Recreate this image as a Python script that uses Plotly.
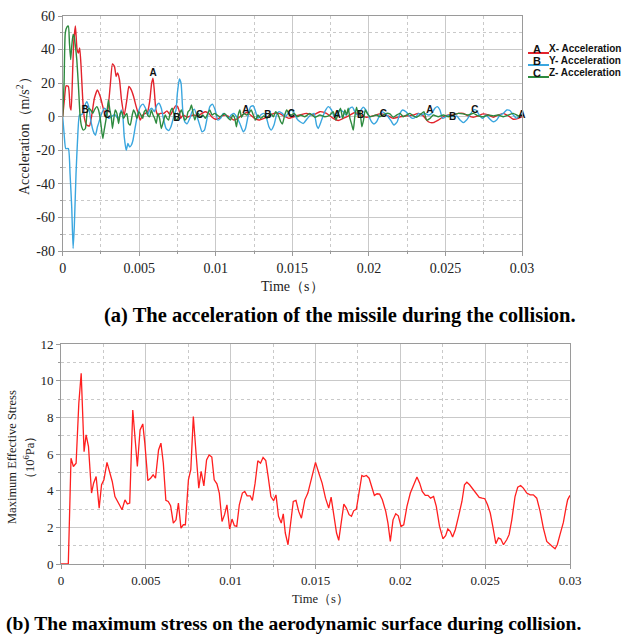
import plotly.graph_objects as go

W, H = 625, 637

# ---------------- (a) acceleration of the missile ----------------
ax_t = [0, 0.00011, 0.00022, 0.00037, 0.00048, 0.00055, 0.00066, 0.00072, 0.00083, 0.00094,
        0.00103, 0.00111, 0.0012, 0.00131, 0.00142, 0.00157, 0.00175, 0.0019, 0.00207, 0.00227,
        0.00245, 0.00262, 0.00277, 0.00288, 0.0031, 0.00325, 0.00338, 0.00349, 0.00358, 0.00371,
        0.00384, 0.00402, 0.00419, 0.00432, 0.00448, 0.00463, 0.0048, 0.00493, 0.00507, 0.00522,
        0.00539, 0.00555, 0.00568, 0.00581, 0.0059, 0.00598, 0.00609, 0.00622, 0.00638, 0.0066,
        0.00681, 0.00703, 0.00721, 0.00738, 0.00751, 0.00762, 0.00771, 0.00786, 0.00812, 0.00834,
        0.00856, 0.00882, 0.0091, 0.00932, 0.00954, 0.00976, 0.00998, 0.0102, 0.01041, 0.01063,
        0.01092, 0.01118, 0.01144, 0.01172, 0.01201, 0.01227, 0.01253, 0.01282, 0.01314, 0.01347,
        0.0138, 0.01413, 0.01445, 0.01478, 0.01511, 0.01549, 0.01593, 0.01636, 0.0168, 0.01723,
        0.01767, 0.018, 0.01832, 0.01876, 0.01908, 0.01941, 0.01985, 0.02028, 0.02072, 0.02115,
        0.02159, 0.02203, 0.02246, 0.0229, 0.02322, 0.02355, 0.02388, 0.0242, 0.02453, 0.02486,
        0.02519, 0.02551, 0.02584, 0.02617, 0.02649, 0.02682, 0.02714, 0.02747, 0.0278, 0.02813,
        0.02845, 0.02878, 0.02911, 0.02943, 0.02976, 0.03]
ax_v = [0, 10, 18.4, 18, 6, 4, 30, 44, 54, 40,
        38, 41, 30, 10, -1, -5, -5.5, 1, 11, 16,
        12, 6, 1, 0, 18, 31.5, 30, 24, 26, 22,
        10, 1, 10, 18, 16, 12, 6, 2, -2, 1,
        2, 3, 9, 20, 23, 16, 4, 1, 2, 2,
        3.5, 1, 4, 6.5, 6, 3, -1, 1, -0.3, 0.5,
        1, 0.5, 2, 3, 2, -0.3, -1.5, -1, 0.5, 1,
        -0.3, -2, -1, 1, 2.5, 1, -1, -2, -1, 0.5,
        2, 2, 0.5, -1, 0, 1, 2, 1, 3, 2,
        -1, -2.3, -1, 1, 2.5, 1, -0.3, 0.5, 1.7, 1,
        -1, 0, 0.5, 1, 2, 0.5, -3, -3.5, -2, 0,
        1, 1, 2, 2, 0.5, -0.3, 0.5, 1.7, 1, -0.3,
        1, 2, 0.5, -1.5, -1, 0]

ay_t = [0, 0.00009, 0.0002, 0.00037, 0.00048, 0.00059, 0.00068, 0.00076, 0.00087, 0.00098,
        0.00109, 0.00118, 0.00131, 0.00146, 0.00157, 0.0017, 0.00183, 0.00201, 0.00214, 0.00227,
        0.0024, 0.00255, 0.00271, 0.00284, 0.00299, 0.00314, 0.00332, 0.00345, 0.00358, 0.00371,
        0.00382, 0.00393, 0.00402, 0.00415, 0.00426, 0.00437, 0.00448, 0.00459, 0.00474, 0.00489,
        0.00507, 0.00524, 0.00541, 0.00555, 0.00568, 0.00583, 0.00598, 0.00616, 0.00629, 0.00644,
        0.0066, 0.00675, 0.00692, 0.00707, 0.00725, 0.0074, 0.00749, 0.00762, 0.00773, 0.00784,
        0.00797, 0.00812, 0.0083, 0.00845, 0.0086, 0.00878, 0.00895, 0.0091, 0.00926, 0.00943,
        0.00961, 0.00978, 0.00996, 0.01013, 0.01031, 0.01048, 0.01066, 0.01085, 0.011, 0.01118,
        0.01135, 0.01157, 0.01179, 0.01194, 0.0121, 0.01227, 0.01245, 0.0126, 0.01275, 0.01293,
        0.0131, 0.01325, 0.01347, 0.01362, 0.0138, 0.01397, 0.01413, 0.01434, 0.01456, 0.01472,
        0.01489, 0.01507, 0.01528, 0.0155, 0.01572, 0.01594, 0.0162, 0.01642, 0.01658, 0.01669,
        0.01691, 0.01712, 0.01734, 0.01756, 0.01773, 0.01789, 0.0181, 0.01832, 0.0185, 0.01876,
        0.01893, 0.01908, 0.01924, 0.01941, 0.01963, 0.0198, 0.01996, 0.02017, 0.02033, 0.0205,
        0.02068, 0.02083, 0.02105, 0.02126, 0.02148, 0.02163, 0.02185, 0.02203, 0.0222, 0.02242,
        0.02264, 0.02285, 0.02307, 0.02325, 0.02344, 0.02366, 0.02388, 0.0241, 0.02431, 0.02447,
        0.02464, 0.02481, 0.02503, 0.02525, 0.02551, 0.02573, 0.02595, 0.02617, 0.02638, 0.0266,
        0.02682, 0.02699, 0.02721, 0.02743, 0.02765, 0.02786, 0.02813, 0.02834, 0.02856, 0.02878,
        0.029, 0.02921, 0.02943, 0.02965, 0.02987, 0.03]
ay_v = [0, -10, -19, -19, -34, -54, -78.5, -65, -34, -12,
        1, 1, 2, 7, 9, 6, -2, -9, -11, -6,
        -2.3, 2, 5, 4, -1, -0.3, 1, 1, -1, 0,
        4, 0, -12, -20, -16, -18, -17, -14, -6, 1,
        6, 7.5, 5, 1, 4, 5, 3, 7, 8, 5,
        -2, -7, -8.3, -6, 0, 4, 14, 22.5, 20, 4,
        -3, -4.3, -1, 3, 4.5, 0, -5, -9, -8, -1,
        6, 7.5, 4, -2, -1, 2, 1, -1, 1, 2,
        0, -4, -9, -7, 0, 6, 6.5, 3, -1, 1,
        2, 1, -6, -8, -5, 1, 3, 2, 0, 2,
        4, 3, -1, -3, -4, -1.5, 1, 2, -5, -7,
        -2, 3, 6, 4, 0, 2, 4, 3, 1, 5,
        5.7, 3, 1, 3, 5.7, 4, 1, -3, -4.3, -3,
        0.5, 3, 2, 0, -3, -5, -3, 2, 4, 3,
        0.5, -1, 0, 2, 1, 2, 1, 2, 5, 6,
        4, -1, 0, 1, 0, 0.5, -2, -3.5, -2, 1,
        4, 4, 1, -1, 1, -1, -3, -2, 1, 2,
        4, 3.7, 1, -1, 1, 1]

az_t = [0, 0.00009, 0.00017, 0.00028, 0.00037, 0.00044, 0.00052, 0.00059, 0.00068, 0.00074,
        0.00083, 0.00092, 0.00103, 0.00114, 0.00124, 0.00135, 0.00148, 0.00159, 0.0017, 0.00183,
        0.00197, 0.00207, 0.00223, 0.00234, 0.00245, 0.00253, 0.00262, 0.00271, 0.00284, 0.00293,
        0.00299, 0.00308, 0.00317, 0.00325, 0.00334, 0.00343, 0.00354, 0.00365, 0.00376, 0.00386,
        0.00397, 0.0041, 0.00419, 0.0043, 0.00441, 0.00454, 0.00463, 0.00474, 0.00485, 0.00498,
        0.00511, 0.00522, 0.00533, 0.00544, 0.00555, 0.00568, 0.00579, 0.0059, 0.00601, 0.00611,
        0.00622, 0.00633, 0.00644, 0.0066, 0.0067, 0.00681, 0.00692, 0.00703, 0.00716, 0.00729,
        0.00742, 0.00753, 0.00764, 0.00775, 0.00786, 0.00797, 0.00808, 0.00819, 0.0083, 0.00841,
        0.00852, 0.00863, 0.00873, 0.00886, 0.009, 0.00915, 0.00932, 0.00948, 0.00961, 0.00976,
        0.00991, 0.01009, 0.01026, 0.01044, 0.01057, 0.01074, 0.01096, 0.01111, 0.01124, 0.01135,
        0.01146, 0.01157, 0.01168, 0.01183, 0.01201, 0.01216, 0.01231, 0.01245, 0.0126, 0.01275,
        0.01293, 0.01314, 0.01336, 0.01358, 0.01376, 0.01391, 0.01408, 0.01424, 0.01435, 0.0145,
        0.01463, 0.01478, 0.01493, 0.01511, 0.01533, 0.01555, 0.01582, 0.01614, 0.01647, 0.0168,
        0.01712, 0.01745, 0.01767, 0.01784, 0.018, 0.01815, 0.01828, 0.01843, 0.01854, 0.01865,
        0.01876, 0.01887, 0.01898, 0.01908, 0.01919, 0.0193, 0.01941, 0.01954, 0.01965, 0.01976,
        0.01989, 0.02007, 0.02028, 0.0205, 0.02072, 0.02094, 0.02115, 0.02137, 0.02159, 0.02181,
        0.02203, 0.02224, 0.02246, 0.02268, 0.0229, 0.02312, 0.02333, 0.02359, 0.02377, 0.02399,
        0.0242, 0.02453, 0.02486, 0.02519, 0.02551, 0.02584, 0.02617, 0.02649, 0.02682, 0.02714,
        0.02747, 0.0278, 0.02813, 0.02845, 0.02878, 0.02911, 0.02943, 0.02976, 0.03]
az_v = [0, 20, 50, 53.5, 54, 44, 34, 42, 49, 48,
        42, 34, 18, 0, -6, -8, -7, 2, 5, 4,
        2, 4, 6, 4, -1, -7, -13, -8, -1, 6,
        10, 4, 0, -7, -1, 4, 2, -4, 2, 3,
        -1, 1, 2, -4, -5, 1, 4, 2, -1, 3,
        1, -1, 3, 4, 1, 0, 4, 1, -1, -4,
        2, -1, -7, -2, 1, -1, -2, 3, 5, 1,
        -2, -1, 2, 4, 1, -2, -1, 3, 4, 7,
        2, -2, 1, 2, -0.3, 1, -1, 2, 4, 1,
        2, 1, 0, 1, 2, 0, -2, 1, -1, -6,
        1, 4, -0.3, 2, 1, 2, 4, 1, -2, 1,
        -1, 0.5, -1, 2, 0, 3, 1, -3, -4.3, 1,
        4, 1.7, 1, 2, 0, 1, 0, 2, -0.3, 1,
        0, 1, 3, -2, 2, 5, -1, 4, 1, 5,
        -1, -4.3, -8, 0, 5.7, 2, 3, -6, -2, 4,
        2, 0, 0.5, 1, 0, 1, 2, 1.7, -0.3, 1,
        2, 0, 1, 2, 0.5, -0.3, 1, 3, -2, -1,
        1, 0, 1, 0, 1, 2, 1.7, 1, 2, 0.5,
        0, 1, 0.5, 1, 0, 1, 2, 0.5, 1]

# letter tags placed along the three acceleration curves
tag_t = [0.0059, 0.00146, 0.0029, 0.00745, 0.00895, 0.01197, 0.0134, 0.01493,
         0.01793, 0.01946, 0.02094, 0.02399, 0.02547, 0.02693, 0.0300]
tag_v = [26, 3.6, 1, -1, 1, 4, 1, 1.5, 0.5, 0.5, 1.5, 3.5, -0.5, 3.5, 1]
tag_s = ["A", "B", "C", "B", "C", "A", "B", "C", "A", "B", "C", "A", "B", "C", "A"]

acc_names = ["X- Acceleration", "Y- Acceleration", "Z- Acceleration"]
acc_letters = ["A", "B", "C"]
acc_colors = ["#e3232c", "#3aa6df", "#2d8a3e"]

acc_ticks = [60, 40, 20, 0, -20, -40, -60, -80]
time_ticks = [0, 0.005, 0.01, 0.015, 0.02, 0.025, 0.03]
time_ticktext = ["0", "0.005", "0.01", "0.015", "0.02", "0.025", "0.03"]

# ---------------- (b) maximum effective stress ----------------
st_t = [0, 0.00043, 0.00059, 0.00073, 0.00089, 0.00105, 0.00119, 0.00136, 0.00148, 0.00162,
        0.0018, 0.00192, 0.00207, 0.00225, 0.00239, 0.00253, 0.00271, 0.0029, 0.00302, 0.00318,
        0.00334, 0.0036, 0.00377, 0.00391, 0.00405, 0.00423, 0.00439, 0.0045, 0.00466, 0.00482,
        0.00494, 0.00512, 0.00528, 0.00543, 0.00557, 0.00575, 0.00589, 0.00603, 0.00618, 0.00632,
        0.00646, 0.00662, 0.00678, 0.00692, 0.00707, 0.00721, 0.00733, 0.00751, 0.00765, 0.0078,
        0.00796, 0.00812, 0.00826, 0.00842, 0.00858, 0.00873, 0.00889, 0.00903, 0.00919, 0.00933,
        0.00949, 0.00964, 0.00978, 0.00994, 0.01008, 0.01022, 0.01036, 0.01051, 0.01069, 0.01083,
        0.01097, 0.01115, 0.01128, 0.01144, 0.0116, 0.01176, 0.01191, 0.01207, 0.01221, 0.01237,
        0.01253, 0.01267, 0.01282, 0.01298, 0.0131, 0.01322, 0.01338, 0.01354, 0.01369, 0.01385,
        0.01401, 0.01417, 0.01437, 0.01455, 0.01486, 0.015, 0.0152, 0.01539, 0.01559, 0.01578,
        0.01592, 0.01608, 0.01624, 0.01637, 0.01651, 0.01667, 0.01682, 0.01698, 0.01712, 0.01725,
        0.01741, 0.01757, 0.01773, 0.01784, 0.018, 0.01816, 0.01831, 0.01847, 0.01863, 0.01878,
        0.01894, 0.01914, 0.01927, 0.01941, 0.01957, 0.01973, 0.01988, 0.02004, 0.0202, 0.02039,
        0.02059, 0.02078, 0.02098, 0.02114, 0.02129, 0.02147, 0.02163, 0.02178, 0.02196, 0.02212,
        0.02231, 0.02251, 0.02267, 0.0228, 0.02294, 0.02308, 0.02324, 0.02343, 0.02363, 0.02378,
        0.02392, 0.02408, 0.02427, 0.02445, 0.02465, 0.02482, 0.02498, 0.02514, 0.0253, 0.02545,
        0.02563, 0.02578, 0.02592, 0.02608, 0.02627, 0.02641, 0.02657, 0.02676, 0.02692, 0.02709,
        0.02725, 0.02745, 0.02765, 0.02784, 0.02804, 0.02824, 0.02843, 0.02863, 0.02882, 0.02896,
        0.02912, 0.02925, 0.02941, 0.02961, 0.02976, 0.02986, 0.03]
st_v = [0, 0, 5.77, 5.32, 5.5, 8.77, 10.4, 6.13, 7.04, 6.4,
        3.87, 4.41, 4.77, 3.05, 4.32, 4.59, 5.54, 4.86, 4.5, 3.68,
        3.41, 2.96, 3.5, 3.28, 3.32, 8.4, 6.59, 5.32, 7.31, 7.64,
        6.59, 4.55, 4.68, 4.86, 4.68, 6.22, 6.59, 5.5, 3.47, 3.41,
        3.18, 2.23, 2.41, 3.32, 1.96, 2.14, 2.14, 4.59, 5.14, 8.04,
        6.04, 4.14, 5.05, 4.26, 5.68, 5.95, 5.83, 4.59, 4.37, 3.87,
        2.32, 2.69, 3.23, 1.91, 2.45, 2.09, 2.05, 3.23, 3.87, 3.96,
        3.72, 3.72, 3.47, 4.41, 5.63, 5.5, 5.81, 5.64, 4.77, 3.68,
        3.45, 3.77, 2.6, 2.23, 2.74, 1.69, 1.05, 2.41, 3.41, 3.47,
        2.87, 2.5, 3.5, 3.87, 5.14, 5.54, 4.95, 4.41, 3.59, 3.05,
        3.65, 2.6, 1.69, 1.29, 2.32, 3.27, 3.05, 2.69, 2.6, 2.9,
        3.0, 3.87, 4.83, 4.77, 4.83, 4.68, 4.26, 3.74, 3.83, 3.81,
        3.5, 2.87, 2.23, 1.23, 2.41, 2.74, 2.63, 2.05, 2.14, 3.14,
        3.87, 4.32, 4.74, 4.41, 3.96, 3.74, 3.74, 3.59, 3.68, 3.14,
        2.05, 1.38, 1.54, 1.91, 1.78, 1.47, 1.87, 2.6, 3.41, 4.32,
        4.46, 4.32, 4.1, 3.87, 3.63, 3.59, 3.56, 3.23, 2.78, 2.05,
        1.11, 1.42, 1.36, 1.05, 1.32, 1.6, 2.41, 3.68, 4.19, 4.28,
        4.14, 3.87, 3.77, 3.77, 3.59, 2.87, 1.96, 1.23, 1.05, 0.96,
        0.83, 1.05, 1.6, 2.27, 3.05, 3.5, 3.74]

stress_ticks = [0, 2, 4, 6, 8, 10, 12]


def px(x):
    return x / W


def py(y):
    return 1 - y / H


fig = go.Figure()

for t, v, name, color in zip([ax_t, ay_t, az_t], [ax_v, ay_v, az_v], acc_names, acc_colors):
    fig.add_trace(go.Scatter(x=t, y=v, mode="lines", name=name,
                             line=dict(color=color, width=1.4, shape="spline", smoothing=0.5),
                             xaxis="x", yaxis="y", showlegend=False))

fig.add_trace(go.Scatter(x=tag_t, y=tag_v, mode="text", text=tag_s,
                         textfont=dict(family="Liberation Sans", size=10, color="#111",
                                       weight="bold"),
                         xaxis="x", yaxis="y", showlegend=False, cliponaxis=False))

fig.add_trace(go.Scatter(x=st_t, y=st_v, mode="lines", name="stress",
                         line=dict(color="#ff1f1f", width=1.3),
                         xaxis="x2", yaxis="y2", showlegend=False))

grid = "#c9c9c9"
frame = "#9a9a9a"
tick_font = dict(family="Liberation Serif", size=14, color="#222")


def axis_style(dtick_minor, **kw):
    d = dict(showgrid=True, gridcolor=grid, gridwidth=1.3, zeroline=False,
             showline=True, linecolor=frame, linewidth=1, mirror=True,
             ticks="outside", ticklen=4, tickcolor=frame, automargin=False,
             minor=dict(dtick=dtick_minor, showgrid=True, gridcolor=grid, griddash="dot",
                        gridwidth=1, ticks="outside", ticklen=2, tickcolor=frame),
             fixedrange=True)
    d.update(kw)
    return d


fig.update_layout(
    width=W, height=H, margin=dict(l=0, r=0, t=0, b=0, pad=0, autoexpand=False),
    paper_bgcolor="white", plot_bgcolor="white", showlegend=False,
    xaxis=axis_style(0.0025, domain=[px(62.7), px(522)], range=[0, 0.03], anchor="y",
                     tickmode="array", tickvals=time_ticks, ticktext=time_ticktext,
                     tickfont=tick_font),
    yaxis=axis_style(10, domain=[py(251), py(16)], range=[-80, 60], anchor="x",
                     tickmode="array", tickvals=acc_ticks,
                     ticktext=[str(v) for v in acc_ticks],
                     tickfont=tick_font),
    xaxis2=axis_style(0.0025, domain=[px(61), px(570)], range=[0, 0.03], anchor="y2",
                      tickmode="array", tickvals=time_ticks, ticktext=time_ticktext,
                      tickfont=dict(tick_font, size=13)),
    yaxis2=axis_style(1, domain=[py(564), py(344)], range=[0, 12], anchor="x2",
                      tickmode="array", tickvals=stress_ticks,
                      ticktext=[str(v) for v in stress_ticks],
                      tickfont=dict(tick_font, size=13)),
)

serif = "Liberation Serif"
ann = [
    dict(x=px(23), y=py(133), text="Acceleration（m/s<sup>2</sup>）", textangle=-90,
         font=dict(family=serif, size=14, color="#222")),
    dict(x=px(292), y=py(287), text="Time（s）", font=dict(family=serif, size=14, color="#222")),
    dict(x=px(340), y=py(316), text="<b>(a) The acceleration of the missile during the collision.</b>",
         font=dict(family=serif, size=20.5, color="#000")),
    dict(x=px(12), y=py(457), text="Maximum Effective Stress", textangle=-90,
         font=dict(family=serif, size=12.5, color="#222")),
    dict(x=px(29), y=py(457), text="（10<sup>6</sup>Pa）", textangle=-90,
         font=dict(family=serif, size=12.5, color="#222")),
    dict(x=px(321), y=py(599), text="Time（s）", font=dict(family=serif, size=12.5, color="#222")),
    dict(x=px(293), y=py(624), text="<b>(b) The maximum stress on the aerodynamic surface during collision.</b>",
         font=dict(family=serif, size=19.5, color="#000")),
]

# legend drawn to the right of the acceleration panel
shapes = []
for i, (letter, name, color) in enumerate(zip(acc_letters, acc_names, acc_colors)):
    yc = 48.5 + 12 * i
    shapes.append(dict(type="line", xref="paper", yref="paper",
                       x0=px(528), x1=px(549), y0=py(yc + 4.5), y1=py(yc + 4.5),
                       line=dict(color=color, width=2)))
    ann.append(dict(x=px(537), y=py(yc), text="<b>" + letter + "</b>", xanchor="center",
                    font=dict(family="Liberation Sans", size=11, color="#111")))
    ann.append(dict(x=px(547), y=py(yc), text="<b>" + name + "</b>", xanchor="left",
                    font=dict(family="Liberation Sans", size=10, color="#111")))

for a in ann:
    a.setdefault("xanchor", "center")
    a.update(xref="paper", yref="paper", yanchor="middle", showarrow=False)

fig.update_layout(annotations=ann, shapes=shapes)

fig.write_html("out.html")
